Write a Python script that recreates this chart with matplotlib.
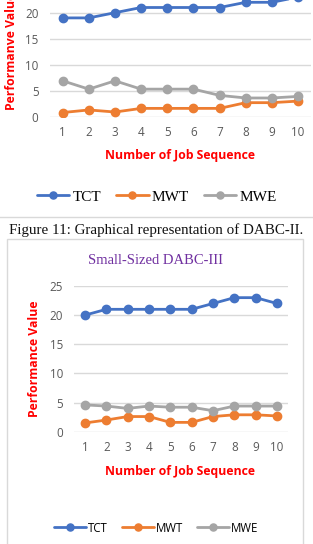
import matplotlib
matplotlib.use("Agg")
import matplotlib.pyplot as plt
from matplotlib.patches import Rectangle
from matplotlib.lines import Line2D

W, H = 313, 544
DPI = 100

jobs = [1, 2, 3, 4, 5, 6, 7, 8, 9, 10]
x_ticks = [str(j) for j in jobs]

# Top chart (DABC-II, partially visible)
top_tct = [19, 19, 20, 21, 21, 21, 21, 22, 22, 23]
top_mwt = [0.8, 1.3, 0.9, 1.6, 1.6, 1.6, 1.6, 2.7, 2.7, 3.0]
top_mwe = [6.9, 5.3, 6.9, 5.3, 5.3, 5.3, 4.1, 3.6, 3.6, 3.9]

# Bottom chart (Small-Sized DABC-III)
bot_tct = [20, 21, 21, 21, 21, 21, 22, 23, 23, 22]
bot_mwt = [1.5, 2.0, 2.6, 2.6, 1.6, 1.6, 2.6, 2.9, 2.9, 2.7]
bot_mwe = [4.6, 4.4, 4.0, 4.4, 4.2, 4.2, 3.6, 4.4, 4.4, 4.4]

y_ticks = [0, 5, 10, 15, 20, 25]
series_names = ["TCT", "MWT", "MWE"]
colors = ["#4472c4", "#ed7d31", "#a5a5a5"]

fig = plt.figure(figsize=(W / DPI, H / DPI), dpi=DPI)
fig.patch.set_facecolor("white")


def ax_px(left, right, top, bottom):
    return fig.add_axes([left / W, 1 - bottom / H, (right - left) / W, (bottom - top) / H])


def style_axes(ax, tickpad_y, tickpad_x):
    ax.set_xlim(0.5, 10.5)
    ax.set_ylim(0, 25)
    ax.set_xticks(jobs)
    ax.set_xticklabels(x_ticks)
    ax.set_yticks(y_ticks)
    ax.set_yticklabels([str(v) for v in y_ticks])
    for s in ax.spines.values():
        s.set_visible(False)
    ax.grid(axis="y", color="#d9d9d9", lw=1.0)
    ax.set_axisbelow(True)
    ax.tick_params(axis="both", length=0, labelsize=8.4, labelcolor="#595959")
    ax.tick_params(axis="y", pad=tickpad_y)
    ax.tick_params(axis="x", pad=tickpad_x)
    for lab in ax.get_xticklabels() + ax.get_yticklabels():
        lab.set_fontfamily("Open Sans")
    ax.patch.set_alpha(0)


def plot_series(ax, data):
    handles = []
    for vals, c, n in zip(data, colors, series_names):
        h, = ax.plot(jobs, vals, color=c, lw=2.0, marker="o", ms=6, label=n,
                     solid_capstyle="round", clip_on=True)
        handles.append(h)
    return handles


# ---- Top chart ----
ax1 = ax_px(49.6, 311.2, -13.3, 116.7)
style_axes(ax1, 8, 7)
h1 = plot_series(ax1, [top_tct, top_mwt, top_mwe])
fig.text(12 / W, 1 - 51.7 / H, "Performanve Value", rotation=90, color="#ff0000",
         fontweight="bold", fontsize=8.8, family="Open Sans", ha="center", va="center")
fig.text(180 / W, 1 - 156 / H, "Number of Job Sequence", color="#ff0000",
         fontweight="bold", fontsize=8.8, family="Open Sans", ha="center", va="center")
fig.legend(handles=h1, loc="center", bbox_to_anchor=(157 / W, 1 - 197 / H), ncol=3,
           frameon=False, prop={"family": "Liberation Serif", "size": 11},
           handlelength=2.1, handletextpad=0.2, columnspacing=1.0, markerscale=0.85)

# separator line (bottom of top chart frame)
fig.add_artist(Line2D([0, 1], [1 - 217 / H, 1 - 217 / H], color="#d9d9d9", lw=1.0))

# Caption
fig.text(156 / W, 1 - 230 / H, "Figure 11: Graphical representation of DABC-II.",
         family="Liberation Serif", fontsize=10.8, color="#111111", ha="center", va="center")

# Bottom chart frame
fig.add_artist(Rectangle((7 / W, -0.01), (303 - 7) / W, (544 - 239) / H + 0.01,
                         transform=fig.transFigure, fill=False, edgecolor="#d9d9d9", lw=1.0))

ax2 = ax_px(74.3, 287.7, 286, 431.7)
style_axes(ax2, 8, 7)
h2 = plot_series(ax2, [bot_tct, bot_mwt, bot_mwe])
fig.text(155 / W, 1 - 260 / H, "Small-Sized DABC-III", color="#7030a0",
         family="Liberation Serif", fontsize=10.5, ha="center", va="center")
fig.text(35 / W, 1 - 359 / H, "Performance Value", rotation=90, color="#ff0000",
         fontweight="bold", fontsize=8.8, family="Open Sans", ha="center", va="center")
fig.text(180 / W, 1 - 471 / H, "Number of Job Sequence", color="#ff0000",
         fontweight="bold", fontsize=8.8, family="Open Sans", ha="center", va="center")
fig.legend(handles=h2, loc="center", bbox_to_anchor=(156 / W, 1 - 528 / H), ncol=3,
           frameon=False, prop={"family": "Open Sans", "size": 8.3},
           handlelength=2.8, handletextpad=0.15, columnspacing=1.2, markerscale=0.85)

fig.savefig("out.png", dpi=DPI, facecolor="white")
